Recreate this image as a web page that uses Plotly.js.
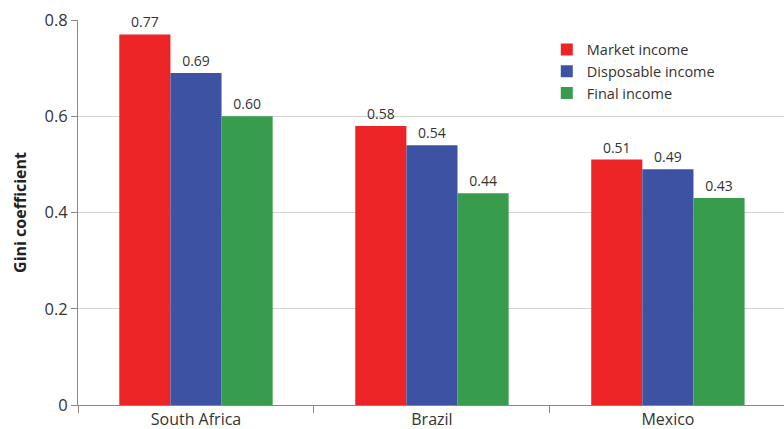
<!DOCTYPE html>
<html>
<head>
<meta charset="utf-8">
<script src="https://cdn.plot.ly/plotly-3.0.1.min.js"></script>
<style>html,body{margin:0;padding:0;background:#fff;}#chart{width:784px;height:429px;}</style>
</head>
<body>
<div id="chart"></div>
<script>
const countries = ["South Africa", "Brazil", "Mexico"];
const marketIncome = [0.77, 0.58, 0.51];
const disposableIncome = [0.69, 0.54, 0.49];
const finalIncome = [0.60, 0.44, 0.43];
const seriesNames = ["Market income", "Disposable income", "Final income"];
const yTicks = [0, 0.2, 0.4, 0.6, 0.8];
const yTickLabels = ["0", "0.2", "0.4", "0.6", "0.8"];

const colors = ["#ec2426", "#3d52a3", "#379d4c"];
const seriesValues = [marketIncome, disposableIncome, finalIncome];
const font = "'Open Sans', 'Noto Sans', sans-serif";

const traces = seriesValues.map((vals, i) => ({
  type: "bar",
  name: seriesNames[i],
  x: countries,
  y: vals,
  marker: {color: colors[i]},
  text: vals.map(v => v.toFixed(2)),
  textposition: "outside",
  textfont: {family: font, size: 14, color: "#333"},
  cliponaxis: false,
  hoverinfo: "skip"
}));

const layout = {
  width: 784,
  height: 429,
  margin: {l: 78, r: 0, t: 20, b: 24},
  paper_bgcolor: "#fff",
  plot_bgcolor: "#fff",
  barmode: "group",
  bargap: 0.35,
  bargroupgap: 0,
  font: {family: font, color: "#333"},
  showlegend: true,
  legend: {
    x: 0.664, y: 0.965, xanchor: "left", yanchor: "top",
    font: {family: font, size: 14.5, color: "#333"},
    bgcolor: "rgba(255,255,255,0)",
    tracegroupgap: 0
  },
  xaxis: {
    type: "category",
    range: [-0.5, 2.492],
    showline: true, linecolor: "#888", linewidth: 1,
    ticks: "outside", tickson: "boundaries", ticklen: 7, tickcolor: "#888",
    ticklabelstandoff: 0,
    tickfont: {family: font, size: 16, color: "#333"},
    showgrid: false, zeroline: false
  },
  yaxis: {
    range: [0, 0.8],
    tickvals: yTicks, ticktext: yTickLabels,
    showline: true, linecolor: "#888", linewidth: 1,
    ticks: "outside", ticklen: 6, tickcolor: "#888",
    tickfont: {family: font, size: 16.5, color: "#333"},
    showgrid: true, gridcolor: "#d4d4d4", gridwidth: 1,
    zeroline: false,
    title: {text: "<b>Gini coefficient</b>", font: {family: font, size: 16, color: "#222"}, standoff: 13}
  }
};

Plotly.newPlot("chart", traces, layout, {displayModeBar: false, staticPlot: true});
</script>
</body>
</html>
